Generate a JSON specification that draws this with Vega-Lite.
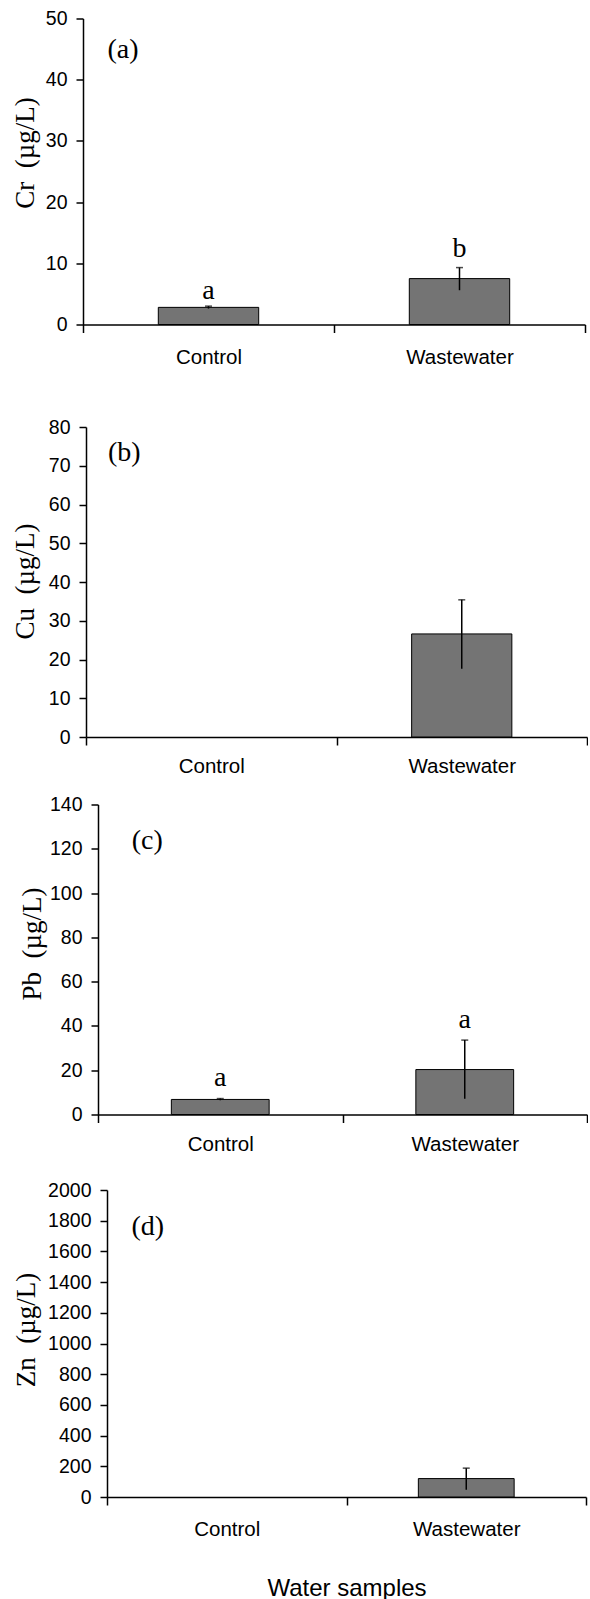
{
  "$schema": "https://vega.github.io/schema/vega-lite/v6.json",
  "padding": {"left": 10, "top": 8.5, "right": 0, "bottom": 0},
  "background": "white",
  "datasets": {
    "bars": [
      {"panel": "a", "sample": "Control", "value": 2.8, "lo": 2.6, "hi": 3.0, "letter": "a", "ly": 4.2},
      {"panel": "a", "sample": "Wastewater", "value": 7.5, "lo": 5.6, "hi": 9.3, "letter": "b", "ly": 11.1},
      {"panel": "b", "sample": "Control", "value": 0},
      {"panel": "b", "sample": "Wastewater", "value": 26.6, "lo": 17.6, "hi": 35.4},
      {"panel": "c", "sample": "Control", "value": 6.8, "lo": 6.4, "hi": 7.2, "letter": "a", "ly": 12.9},
      {"panel": "c", "sample": "Wastewater", "value": 20.3, "lo": 7.1, "hi": 33.6, "letter": "a", "ly": 39.0},
      {"panel": "d", "sample": "Control", "value": 0},
      {"panel": "d", "sample": "Wastewater", "value": 120, "lo": 48, "hi": 188}
    ],
    "tags": [
      {"panel": "a", "sample": "Control", "tag": "(a)", "ty": 44.9},
      {"panel": "b", "sample": "Control", "tag": "(b)", "ty": 73.3},
      {"panel": "c", "sample": "Control", "tag": "(c)", "ty": 123.5},
      {"panel": "d", "sample": "Control", "tag": "(d)", "ty": 1756}
    ],
    "none": []
  },
  "spacing": 17.5,
  "vconcat": [
    {"spacing": 0, "hconcat": [
    {"width": 1, "height": 1, "data": {"name": "none"}, "mark": "point"},
    {
      "width": 502, "height": 306,
      "encoding": {
        "x": {"field": "sample", "type": "nominal", "sort": ["Control", "Wastewater"],
          "scale": {"domain": ["Control", "Wastewater"], "paddingInner": 0, "paddingOuter": 0},
          "axis": {"title": " ", "titleFontSize": 20, "titlePadding": 12, "labelPadding": 14.5}}
      },
      "layer": [
        {"data": {"name": "bars"}, "transform": [{"filter": "datum.panel == 'a' && datum.value > 0"}],
          "mark": {"type": "bar", "fill": "#747474", "stroke": "black", "strokeWidth": 1, "width": {"band": 0.4}},
          "encoding": {"y": {"field": "value", "type": "quantitative", "scale": {"domain": [0, 50]},
            "axis": {"values": [0, 10, 20, 30, 40, 50], "labelOverlap": false, "title": "Cr\u2002(µg/L)", "titleX": -43.5, "titleY": 134}}}},
        {"data": {"name": "bars"}, "transform": [{"filter": "datum.panel == 'a' && isValid(datum.hi)"}],
          "mark": {"type": "rule", "strokeWidth": 1.5, "color": "black"},
          "encoding": {"y": {"field": "lo", "type": "quantitative", "scale": {"domain": [0, 50]},
            "axis": {"values": [0, 10, 20, 30, 40, 50], "labelOverlap": false, "title": "Cr\u2002(µg/L)", "titleX": -43.5, "titleY": 134}}, "y2": {"field": "hi"}}},
        {"data": {"name": "bars"}, "transform": [{"filter": "datum.panel == 'a' && isValid(datum.hi)"}],
          "mark": {"type": "tick", "orient": "horizontal", "size": 7, "thickness": 1.5, "color": "black"},
          "encoding": {"y": {"field": "hi", "type": "quantitative", "scale": {"domain": [0, 50]},
            "axis": {"values": [0, 10, 20, 30, 40, 50], "labelOverlap": false, "title": "Cr\u2002(µg/L)", "titleX": -43.5, "titleY": 134}}}},
        {"data": {"name": "bars"}, "transform": [{"filter": "datum.panel == 'a' && isValid(datum.letter)"}],
          "mark": {"type": "text", "font": "Liberation Serif", "fontSize": 28, "baseline": "alphabetic", "color": "black"},
          "encoding": {"y": {"field": "ly", "type": "quantitative", "scale": {"domain": [0, 50]},
            "axis": {"values": [0, 10, 20, 30, 40, 50], "labelOverlap": false, "title": "Cr\u2002(µg/L)", "titleX": -43.5, "titleY": 134}}, "text": {"field": "letter"}}},
        {"data": {"name": "tags"}, "transform": [{"filter": "datum.panel == 'a'"}],
          "mark": {"type": "text", "font": "Liberation Serif", "fontSize": 28, "baseline": "middle", "dx": -85.5, "color": "black"},
          "encoding": {"y": {"field": "ty", "type": "quantitative", "scale": {"domain": [0, 50]},
            "axis": {"values": [0, 10, 20, 30, 40, 50], "labelOverlap": false, "title": "Cr\u2002(µg/L)", "titleX": -43.5, "titleY": 134}}, "text": {"field": "tag"}}}
      ]
    }]},
    {"spacing": 0, "hconcat": [
    {"width": 1, "height": 1, "data": {"name": "none"}, "mark": "point"},
    {
      "width": 501, "height": 310,
      "encoding": {
        "x": {"field": "sample", "type": "nominal", "sort": ["Control", "Wastewater"],
          "scale": {"domain": ["Control", "Wastewater"], "paddingInner": 0, "paddingOuter": 0},
          "axis": {"title": null, "labelPadding": 11.5}}
      },
      "layer": [
        {"data": {"name": "bars"}, "transform": [{"filter": "datum.panel == 'b' && datum.value > 0"}],
          "mark": {"type": "bar", "fill": "#747474", "stroke": "black", "strokeWidth": 1, "width": {"band": 0.4}},
          "encoding": {"y": {"field": "value", "type": "quantitative", "scale": {"domain": [0, 80]},
            "axis": {"values": [0, 10, 20, 30, 40, 50, 60, 70, 80], "labelOverlap": false, "title": "Cu\u2002(µg/L)", "titleX": -46.5, "titleY": 154}}}},
        {"data": {"name": "bars"}, "transform": [{"filter": "datum.panel == 'b' && isValid(datum.hi)"}],
          "mark": {"type": "rule", "strokeWidth": 1.5, "color": "black"},
          "encoding": {"y": {"field": "lo", "type": "quantitative", "scale": {"domain": [0, 80]},
            "axis": {"values": [0, 10, 20, 30, 40, 50, 60, 70, 80], "labelOverlap": false, "title": "Cu\u2002(µg/L)", "titleX": -46.5, "titleY": 154}}, "y2": {"field": "hi"}}},
        {"data": {"name": "bars"}, "transform": [{"filter": "datum.panel == 'b' && isValid(datum.hi)"}],
          "mark": {"type": "tick", "orient": "horizontal", "size": 7, "thickness": 1.5, "color": "black"},
          "encoding": {"y": {"field": "hi", "type": "quantitative", "scale": {"domain": [0, 80]},
            "axis": {"values": [0, 10, 20, 30, 40, 50, 60, 70, 80], "labelOverlap": false, "title": "Cu\u2002(µg/L)", "titleX": -46.5, "titleY": 154}}}},
        {"data": {"name": "tags"}, "transform": [{"filter": "datum.panel == 'b'"}],
          "mark": {"type": "text", "font": "Liberation Serif", "fontSize": 28, "baseline": "middle", "dx": -87, "color": "black"},
          "encoding": {"y": {"field": "ty", "type": "quantitative", "scale": {"domain": [0, 80]},
            "axis": {"values": [0, 10, 20, 30, 40, 50, 60, 70, 80], "labelOverlap": false, "title": "Cu\u2002(µg/L)", "titleX": -46.5, "titleY": 154}}, "text": {"field": "tag"}}}
      ]
    }]},
    {"spacing": 0, "hconcat": [
    {"width": 7.5, "height": 1, "data": {"name": "none"}, "mark": "point"},
    {
      "width": 489, "height": 310,
      "encoding": {
        "x": {"field": "sample", "type": "nominal", "sort": ["Control", "Wastewater"],
          "scale": {"domain": ["Control", "Wastewater"], "paddingInner": 0, "paddingOuter": 0},
          "axis": {"title": " ", "titleFontSize": 7.5, "titlePadding": 0, "labelPadding": 11.5}}
      },
      "layer": [
        {"data": {"name": "bars"}, "transform": [{"filter": "datum.panel == 'c' && datum.value > 0"}],
          "mark": {"type": "bar", "fill": "#747474", "stroke": "black", "strokeWidth": 1, "width": {"band": 0.4}},
          "encoding": {"y": {"field": "value", "type": "quantitative", "scale": {"domain": [0, 140]},
            "axis": {"values": [0, 20, 40, 60, 80, 100, 120, 140], "labelOverlap": false, "title": "Pb\u2002(µg/L)", "titleX": -52, "titleY": 139}}}},
        {"data": {"name": "bars"}, "transform": [{"filter": "datum.panel == 'c' && isValid(datum.hi)"}],
          "mark": {"type": "rule", "strokeWidth": 1.5, "color": "black"},
          "encoding": {"y": {"field": "lo", "type": "quantitative", "scale": {"domain": [0, 140]},
            "axis": {"values": [0, 20, 40, 60, 80, 100, 120, 140], "labelOverlap": false, "title": "Pb\u2002(µg/L)", "titleX": -52, "titleY": 139}}, "y2": {"field": "hi"}}},
        {"data": {"name": "bars"}, "transform": [{"filter": "datum.panel == 'c' && isValid(datum.hi)"}],
          "mark": {"type": "tick", "orient": "horizontal", "size": 7, "thickness": 1.5, "color": "black"},
          "encoding": {"y": {"field": "hi", "type": "quantitative", "scale": {"domain": [0, 140]},
            "axis": {"values": [0, 20, 40, 60, 80, 100, 120, 140], "labelOverlap": false, "title": "Pb\u2002(µg/L)", "titleX": -52, "titleY": 139}}}},
        {"data": {"name": "bars"}, "transform": [{"filter": "datum.panel == 'c' && isValid(datum.letter)"}],
          "mark": {"type": "text", "font": "Liberation Serif", "fontSize": 28, "baseline": "alphabetic", "color": "black"},
          "encoding": {"y": {"field": "ly", "type": "quantitative", "scale": {"domain": [0, 140]},
            "axis": {"values": [0, 20, 40, 60, 80, 100, 120, 140], "labelOverlap": false, "title": "Pb\u2002(µg/L)", "titleX": -52, "titleY": 139}}, "text": {"field": "letter"}}},
        {"data": {"name": "tags"}, "transform": [{"filter": "datum.panel == 'c'"}],
          "mark": {"type": "text", "font": "Liberation Serif", "fontSize": 28, "baseline": "middle", "dx": -73, "color": "black"},
          "encoding": {"y": {"field": "ty", "type": "quantitative", "scale": {"domain": [0, 140]},
            "axis": {"values": [0, 20, 40, 60, 80, 100, 120, 140], "labelOverlap": false, "title": "Pb\u2002(µg/L)", "titleX": -52, "titleY": 139}}, "text": {"field": "tag"}}}
      ]
    }]},
    {"spacing": 0, "hconcat": [
    {"width": 1, "height": 1, "data": {"name": "none"}, "mark": "point"},
    {
      "width": 479, "height": 307,
      "encoding": {
        "x": {"field": "sample", "type": "nominal", "sort": ["Control", "Wastewater"],
          "scale": {"domain": ["Control", "Wastewater"], "paddingInner": 0, "paddingOuter": 0},
          "axis": {"title": "Water samples", "titlePadding": 36, "titleFontSize": 24, "labelPadding": 14.5}}
      },
      "layer": [
        {"data": {"name": "bars"}, "transform": [{"filter": "datum.panel == 'd' && datum.value > 0"}],
          "mark": {"type": "bar", "fill": "#747474", "stroke": "black", "strokeWidth": 1, "width": {"band": 0.4}},
          "encoding": {"y": {"field": "value", "type": "quantitative", "scale": {"domain": [0, 2000]},
            "axis": {"values": [0, 200, 400, 600, 800, 1000, 1200, 1400, 1600, 1800, 2000], "labelOverlap": false, "title": "Zn\u2002(µg/L)", "titleX": -67, "titleY": 139.5}}}},
        {"data": {"name": "bars"}, "transform": [{"filter": "datum.panel == 'd' && isValid(datum.hi)"}],
          "mark": {"type": "rule", "strokeWidth": 1.5, "color": "black"},
          "encoding": {"y": {"field": "lo", "type": "quantitative", "scale": {"domain": [0, 2000]},
            "axis": {"values": [0, 200, 400, 600, 800, 1000, 1200, 1400, 1600, 1800, 2000], "labelOverlap": false, "title": "Zn\u2002(µg/L)", "titleX": -67, "titleY": 139.5}}, "y2": {"field": "hi"}}},
        {"data": {"name": "bars"}, "transform": [{"filter": "datum.panel == 'd' && isValid(datum.hi)"}],
          "mark": {"type": "tick", "orient": "horizontal", "size": 7, "thickness": 1.5, "color": "black"},
          "encoding": {"y": {"field": "hi", "type": "quantitative", "scale": {"domain": [0, 2000]},
            "axis": {"values": [0, 200, 400, 600, 800, 1000, 1200, 1400, 1600, 1800, 2000], "labelOverlap": false, "title": "Zn\u2002(µg/L)", "titleX": -67, "titleY": 139.5}}}},
        {"data": {"name": "tags"}, "transform": [{"filter": "datum.panel == 'd'"}],
          "mark": {"type": "text", "font": "Liberation Serif", "fontSize": 28, "baseline": "middle", "dx": -79, "color": "black"},
          "encoding": {"y": {"field": "ty", "type": "quantitative", "scale": {"domain": [0, 2000]},
            "axis": {"values": [0, 200, 400, 600, 800, 1000, 1200, 1400, 1600, 1800, 2000], "labelOverlap": false, "title": "Zn\u2002(µg/L)", "titleX": -67, "titleY": 139.5}}, "text": {"field": "tag"}}}
      ]
    }]}
  ],
  "config": {
    "view": {"stroke": null},
    "axis": {"domainColor": "black", "tickColor": "black", "labelColor": "black", "titleColor": "black", "grid": false,
      "domainWidth": 1.5, "tickWidth": 1.5, "labelFont": "Liberation Sans", "titleFont": "Liberation Serif", "titleFontWeight": "normal"},
    "axisX": {"tickSize": 8, "labelFontSize": 20.5, "labelAngle": 0, "tickBand": "extent", "titleFont": "Liberation Sans", "titleFontSize": 25},
    "axisY": {"tickSize": 7, "labelPadding": 9, "labelFontSize": 19.5, "titleFontSize": 27, "labelOverlap": false, "format": "d"}
  }
}
